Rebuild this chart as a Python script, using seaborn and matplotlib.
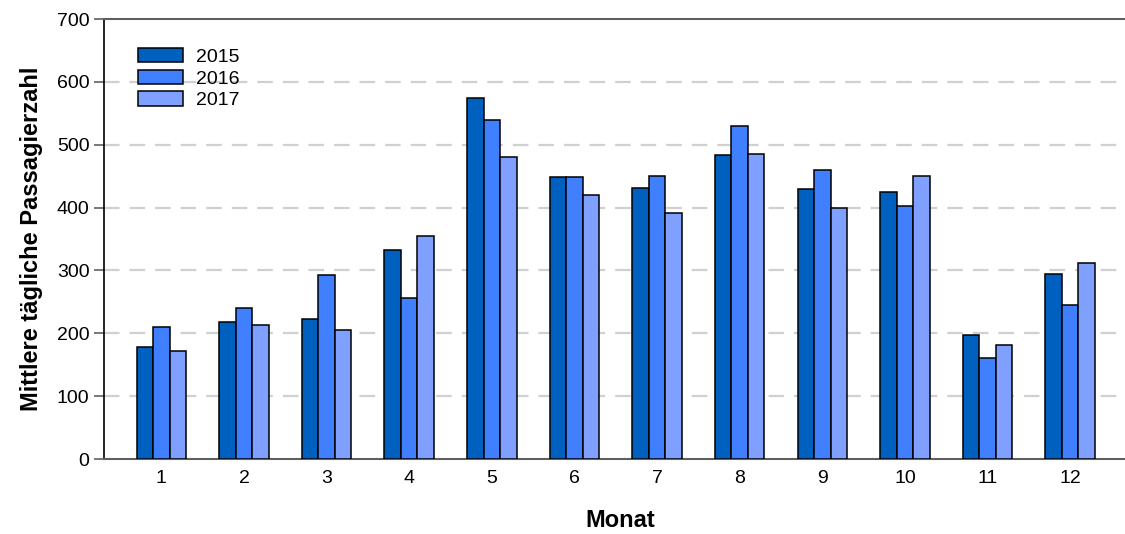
import matplotlib
matplotlib.use("Agg")
import matplotlib.pyplot as plt
import pandas as pd
import seaborn as sns

months = [str(m) for m in range(1, 13)]
years = ["2015", "2016", "2017"]
v2015 = [178, 218, 223, 332, 574, 448, 431, 484, 430, 424, 198, 295]
v2016 = [210, 240, 293, 256, 540, 449, 450, 530, 459, 402, 160, 245]
v2017 = [172, 213, 206, 354, 480, 420, 391, 486, 400, 450, 182, 312]
colors = ["#0060C0", "#4080FF", "#80A0FF"]

rows = []
for year, vals in zip(years, [v2015, v2016, v2017]):
    for m, v in zip(months, vals):
        rows.append([m, year, v])
df = pd.DataFrame(rows, columns=["Monat", "Jahr", "Wert"])

sns.set_style("white")
plt.rcParams["font.family"] = ["Liberation Sans", "DejaVu Sans"]
plt.rcParams["text.color"] = "black"
plt.rcParams["axes.labelcolor"] = "black"
plt.rcParams["xtick.color"] = "black"
plt.rcParams["ytick.color"] = "black"

fig = plt.figure(figsize=(11.25, 5.34), dpi=100)
ax = fig.add_axes([103.5 / 1125, 75 / 534, 1 - 103.5 / 1125 + 0.01, 440 / 534])

sns.barplot(data=df, x="Monat", y="Wert", hue="Jahr", order=months, hue_order=years,
            palette=colors, width=0.6, edgecolor="black", linewidth=1.1,
            saturation=1, ax=ax, zorder=3)

ax.set_ylim(0, 700)
ax.set_xlim(-0.70, 11.8)
ax.set_yticks(range(0, 701, 100))
for y in range(100, 700, 100):
    ax.axhline(y, color="#d0d0d0", lw=1.6, ls=(0, (7, 4.5)), zorder=1)

ax.spines["right"].set_visible(False)
ax.spines["left"].set_color("black")
ax.spines["left"].set_linewidth(1.2)
ax.spines["top"].set_color("#606060")
ax.spines["top"].set_linewidth(1.5)
ax.spines["bottom"].set_color("#606060")
ax.spines["bottom"].set_linewidth(1.5)

ax.tick_params(axis="y", length=7, width=1.2, color="#606060", labelsize=14, pad=3, left=True)
ax.tick_params(axis="x", length=0, labelsize=14, pad=8)

ax.set_xlabel("Monat", fontsize=17, fontweight="bold", labelpad=16)
ax.set_ylabel("Mittlere tägliche Passagierzahl", fontsize=17, fontweight="bold", labelpad=10)

handles, labels = ax.get_legend_handles_labels()
ax.legend(handles, labels, loc="upper left", bbox_to_anchor=(0.026, 0.952), frameon=False,
          fontsize=14, handlelength=2.3, handleheight=0.75, labelspacing=0.2,
          handletextpad=0.7, borderaxespad=0, title=None)

fig.savefig("out.png", dpi=100)
